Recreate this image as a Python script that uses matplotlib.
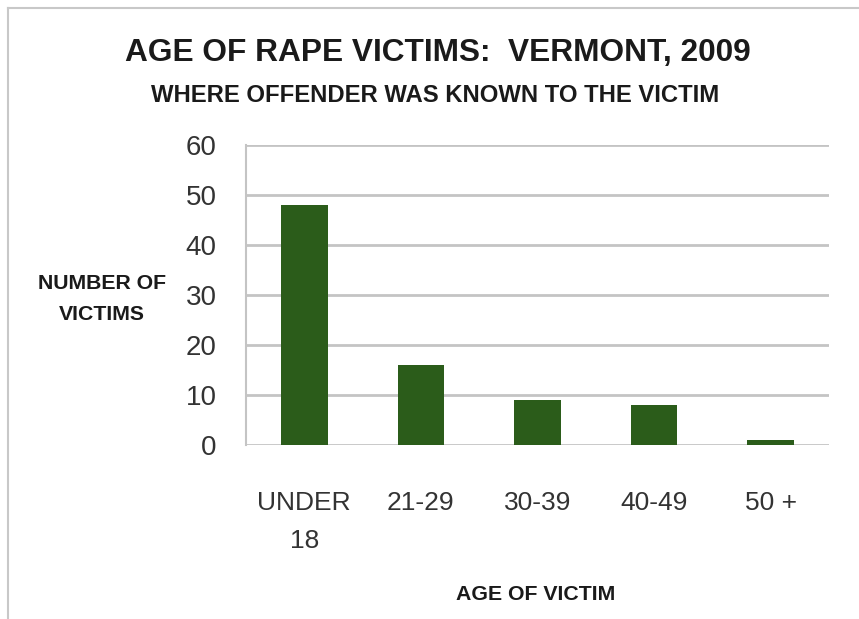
import matplotlib
matplotlib.use("Agg")
import matplotlib.pyplot as plt

plt.rcParams['font.family'] = ['Liberation Sans', 'DejaVu Sans']

categories = ["UNDER\n18", "21-29", "30-39", "40-49", "50 +"]
victims = [48, 16, 9, 8, 1]
yticks = [0, 10, 20, 30, 40, 50, 60]

fig = plt.figure(figsize=(8.59, 6.19), dpi=100)
ax = fig.add_axes([246/859, 1 - 445/619, (829-246)/859, (445-145)/619])

x = range(len(categories))
ax.bar(x, victims, width=0.4, color="#2b5c1a", zorder=3)
ax.set_xlim(-0.5, len(categories) - 0.5)
ax.set_ylim(0, 60)
ax.set_yticks(yticks)
ax.set_xticks(list(x))
ax.set_xticklabels(categories, fontsize=19, color="#333333", linespacing=1.75, va="top")
ax.tick_params(axis="y", labelsize=20, labelcolor="#333333", length=0, pad=21)
ax.tick_params(axis="x", length=0, pad=33)
ax.grid(axis="y", color="#c4c4c4", linewidth=2, zorder=0)
for s in ["top", "right", "bottom"]:
    ax.spines[s].set_visible(False)
ax.spines["left"].set_color("#c4c4c4")
ax.spines["left"].set_linewidth(1.5)

fig.text(0.510, 0.915, "AGE OF RAPE VICTIMS:  VERMONT, 2009", ha="center", va="center",
         fontsize=22.8, fontweight="bold", color="#1a1a1a")
fig.text(0.507, 0.8465, "WHERE OFFENDER WAS KNOWN TO THE VICTIM", ha="center", va="center",
         fontsize=17.2, fontweight="bold", color="#1a1a1a")
fig.text(102/859, 1 - 299/619, "NUMBER OF\nVICTIMS", ha="center", va="center",
         fontsize=15.3, fontweight="bold", color="#1a1a1a", linespacing=1.75)
fig.text(536/859, 1 - 594/619, "AGE OF VICTIM", ha="center", va="center",
         fontsize=15.3, fontweight="bold", color="#1a1a1a")

# outer frame lines
fig.add_artist(plt.Line2D([8/859, 8/859], [0, 1 - 8/619], color="#c8c8c8", linewidth=1.5))
fig.add_artist(plt.Line2D([8/859, 1], [1 - 8/619, 1 - 8/619], color="#c8c8c8", linewidth=1.5))

fig.savefig("out.png", dpi=100)
